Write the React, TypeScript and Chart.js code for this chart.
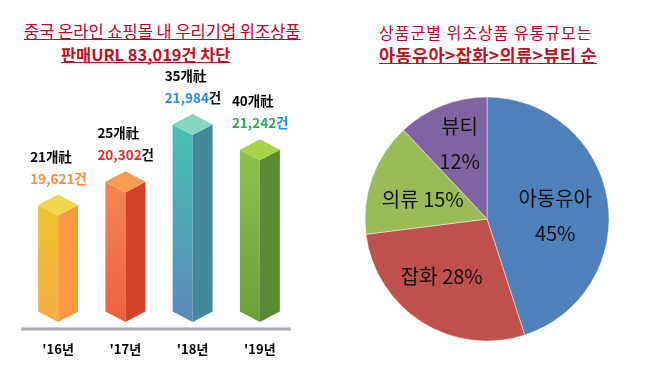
import React, { useEffect, useRef } from "react";
import { Chart, registerables } from "chart.js";

Chart.register(...registerables);

// ---------- data ----------
const years = ["'16년", "'17년", "'18년", "'19년"];
const urlCounts = [19621, 20302, 21984, 21242];
const companyCounts = [21, 25, 35, 40];
const pieCategories = ["아동유아", "잡화", "의류", "뷰티"];
const pieShares = [45, 28, 15, 12];

// ---------- styles ----------
const FONT = '"Noto Sans CJK KR", "Noto Sans", sans-serif';
const Y_MIN = 16500;
const Y_MAX = 23600;

const barColors = [
  { cap: "#f0d64e", frontTop: "#f0c22c", frontBottom: "#f4ae44", side: "#f99a3e", num: "#ff8a3c", unit: "#ff8a3c" },
  { cap: "#f79c52", frontTop: "#f58650", frontBottom: "#ea6040", side: "#d24428", num: "#ff2020", unit: "#111111" },
  { cap: "#86d6c0", frontTop: "#46c2b4", frontBottom: "#5a88b8", side: "#44889a", num: "#1e8cff", unit: "#111111" },
  { cap: "#a6d444", frontTop: "#8ec24e", frontBottom: "#6c9e3a", side: "#5a8a34", num: "#20b050", unit: "#1e8cff" },
];

const pieColors = ["#4f81bd", "#c0504d", "#9bbb59", "#8064a2"];
const pieLabelRadius = [0.56, 0.6, 0.55, 0.66];
const pieLabelAngleShift = [0.1, 0.1, -0.05, 0.03];

const bar3dPlugin = {
  id: "bar3d",
  afterDatasetsDraw(chart: any) {
    const ctx = chart.ctx as CanvasRenderingContext2D;
    const meta = chart.getDatasetMeta(0);
    const yScale = chart.scales.y;
    const basePx = yScale.getPixelForValue(Y_MIN);
    const area = chart.chartArea;
    ctx.save();
    // baseline
    ctx.strokeStyle = "#a3a5ad";
    ctx.lineWidth = 3;
    ctx.beginPath();
    ctx.moveTo(area.left - 3, basePx + 7);
    ctx.lineTo(area.right - 3, basePx + 7);
    ctx.stroke();

    meta.data.forEach((el: any, i: number) => {
      const { x, y, width } = el.getProps(["x", "y", "width"], true);
      const base = basePx;
      const hw = width / 2;
      const d = hw * 0.53;
      const c = barColors[i];
      // front-left face
      const g = ctx.createLinearGradient(0, y - d, 0, base);
      g.addColorStop(0, c.frontTop);
      g.addColorStop(1, c.frontBottom);
      ctx.fillStyle = g;
      ctx.beginPath();
      ctx.moveTo(x - hw, y - d);
      ctx.lineTo(x, y);
      ctx.lineTo(x, base);
      ctx.lineTo(x - hw, base - d);
      ctx.closePath();
      ctx.fill();
      // right face
      ctx.fillStyle = c.side;
      ctx.beginPath();
      ctx.moveTo(x, y);
      ctx.lineTo(x + hw, y - d);
      ctx.lineTo(x + hw, base - d);
      ctx.lineTo(x, base);
      ctx.closePath();
      ctx.fill();
      // top cap
      ctx.fillStyle = c.cap;
      ctx.beginPath();
      ctx.moveTo(x - hw, y - d);
      ctx.lineTo(x, y - 2 * d);
      ctx.lineTo(x + hw, y - d);
      ctx.lineTo(x, y);
      ctx.closePath();
      ctx.fill();

      // labels
      const peak = y - 2 * d;
      const lx = x - hw - 8;
      ctx.textAlign = "left";
      ctx.textBaseline = "middle";
      ctx.font = `bold 13.5px ${FONT}`;
      ctx.fillStyle = "#000000";
      ctx.fillText(`${companyCounts[i]}개社`, lx, peak - 38);
      const num = urlCounts[i].toLocaleString("en-US");
      ctx.fillStyle = c.num;
      ctx.fillText(num, lx, peak - 16);
      const w = ctx.measureText(num).width;
      ctx.fillStyle = c.unit;
      ctx.fillText("건", lx + w, peak - 16);
    });
    ctx.restore();
  },
};

const pieLabelPlugin = {
  id: "pieLabels",
  afterDatasetsDraw(chart: any) {
    const ctx = chart.ctx as CanvasRenderingContext2D;
    const meta = chart.getDatasetMeta(0);
    ctx.save();
    ctx.font = `20px ${FONT}`;
    ctx.fillStyle = "#111111";
    ctx.textAlign = "center";
    ctx.textBaseline = "middle";
    meta.data.forEach((el: any, i: number) => {
      const { x, y, startAngle, endAngle, outerRadius } = el.getProps(
        ["x", "y", "startAngle", "endAngle", "outerRadius"],
        true
      );
      const mid = (startAngle + endAngle) / 2 + pieLabelAngleShift[i];
      const r = outerRadius * pieLabelRadius[i];
      const px = x + Math.cos(mid) * r;
      const py = y + Math.sin(mid) * r;
      const name = pieCategories[i];
      const pct = `${pieShares[i]}%`;
      if (i === 0 || i === 3) {
        ctx.fillText(name, px, py - 17);
        ctx.fillText(pct, px, py + 18);
      } else {
        ctx.fillText(`${name} ${pct}`, px, py);
      }
    });
    ctx.restore();
  },
};

function BarChart() {
  const ref = useRef<HTMLCanvasElement>(null);
  useEffect(() => {
    const chart = new Chart(ref.current as HTMLCanvasElement, {
      type: "bar",
      data: {
        labels: years,
        datasets: [
          {
            data: urlCounts,
            base: Y_MIN,
            backgroundColor: "rgba(0,0,0,0)",
            borderWidth: 0,
            barPercentage: 0.594,
            categoryPercentage: 1,
          },
        ],
      },
      options: {
        responsive: false,
        animation: false,
        layout: { padding: { left: 24.5, right: 26.5, top: 80, bottom: 32 } },
        plugins: { legend: { display: false }, tooltip: { enabled: false } },
        scales: {
          x: {
            grid: { display: false, drawTicks: false },
            border: { display: false },
            afterFit: (scale: any) => {
              scale.height = 35;
            },
            ticks: {
              padding: 19,
              color: "#000000",
              font: { family: FONT, size: 13, weight: "bold" },
            },
          },
          y: { display: false, min: Y_MIN, max: Y_MAX, beginAtZero: false },
        },
      },
      plugins: [bar3dPlugin],
    } as any);
    return () => chart.destroy();
  }, []);
  return (
    <canvas
      ref={ref}
      width={320}
      height={389}
      style={{ position: "absolute", left: 0, top: 0, width: 320, height: 389 }}
    />
  );
}

function PieChart() {
  const ref = useRef<HTMLCanvasElement>(null);
  useEffect(() => {
    const chart = new Chart(ref.current as HTMLCanvasElement, {
      type: "pie",
      data: {
        labels: pieCategories,
        datasets: [
          {
            data: pieShares,
            backgroundColor: pieColors,
            borderColor: "rgba(255,255,255,0.45)",
            borderWidth: 1,
            radius: 122,
          },
        ],
      },
      options: {
        responsive: false,
        animation: false,
        plugins: { legend: { display: false }, tooltip: { enabled: false } },
      },
      plugins: [pieLabelPlugin],
    } as any);
    return () => chart.destroy();
  }, []);
  return (
    <canvas
      ref={ref}
      width={250}
      height={250}
      style={{ position: "absolute", left: 362, top: 94, width: 250, height: 250 }}
    />
  );
}

const titleBase: React.CSSProperties = {
  position: "absolute",
  whiteSpace: "nowrap",
  fontFamily: FONT,
  lineHeight: 1,
  margin: 0,
};

export default function App() {
  return (
    <div
      style={{
        position: "absolute",
        left: 0,
        top: 0,
        width: 645,
        height: 389,
        background: "#ffffff",
        overflow: "hidden",
      }}
    >
      <div
        style={{
          ...titleBase,
          left: 24,
          top: 23,
          fontSize: 16.5,
          color: "#c0002c",
          textDecoration: "underline",
          textDecorationThickness: "1px",
        }}
      >
        중국 온라인 쇼핑몰 내 우리기업 위조상품
      </div>
      <div
        style={{
          ...titleBase,
          left: 61,
          top: 45.5,
          fontSize: 16.4,
          fontWeight: "bold",
          color: "#c01020",
          textDecoration: "underline",
          textDecorationThickness: "1px",
        }}
      >
        판매URL 83,019건 차단
      </div>
      <div
        style={{
          ...titleBase,
          left: 379,
          top: 24,
          fontSize: 16,
          letterSpacing: "1px",
          color: "#c0002c",
        }}
      >
        상품군별 위조상품 유통규모는
      </div>
      <div
        style={{
          ...titleBase,
          left: 379,
          top: 46,
          fontSize: 17.5,
          letterSpacing: "0.4px",
          fontWeight: "bold",
          color: "#c01020",
          textDecoration: "underline",
          textDecorationThickness: "1px",
        }}
      >
        아동유아&gt;잡화&gt;의류&gt;뷰티 순
      </div>
      <BarChart />
      <PieChart />
    </div>
  );
}
